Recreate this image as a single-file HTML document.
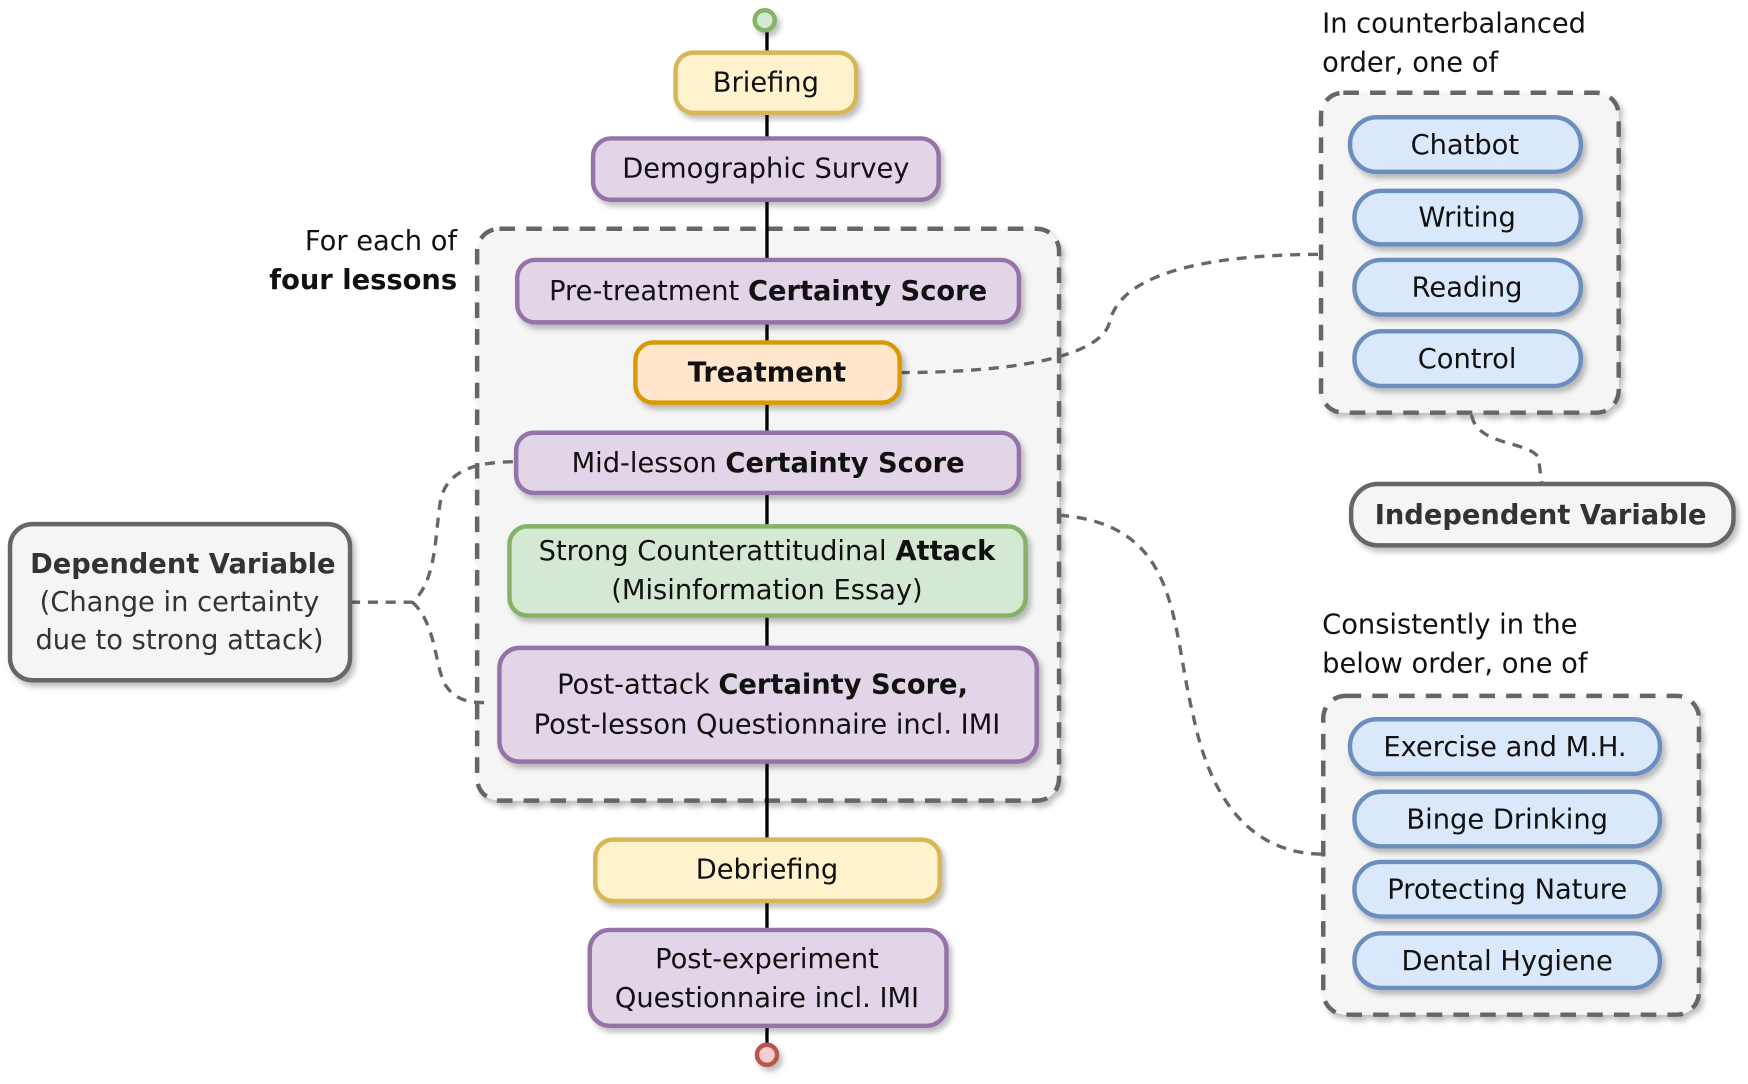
<!DOCTYPE html>
<html><head><meta charset="utf-8"><style>
html,body{margin:0;padding:0;background:#fff}
svg{display:block}
text{font-family:"DejaVu Sans","Liberation Sans",sans-serif;font-size:24.5px;fill:#111}
.b{font-weight:bold}
</style></head><body>
<svg width="1748" height="1084" viewBox="0 0 1568 972" xmlns="http://www.w3.org/2000/svg">
<defs><filter id="s" x="-10%" y="-10%" width="125%" height="135%"><feDropShadow dx="3" dy="4" stdDeviation="2.5" flood-color="#000" flood-opacity="0.25"/></filter></defs>
<g filter="url(#s)">
<rect x="428" y="205" width="522" height="513" rx="20" fill="#f5f5f5" stroke="#666" stroke-width="4" stroke-dasharray="14 10"/>
<rect x="1185" y="83" width="267" height="287" rx="20" fill="#f5f5f5" stroke="#666" stroke-width="4" stroke-dasharray="14 10"/>
<rect x="1187" y="624" width="337" height="286" rx="20" fill="#f5f5f5" stroke="#666" stroke-width="4" stroke-dasharray="14 10"/>
</g>
<line x1="688" y1="18" x2="688" y2="946" stroke="#000" stroke-width="3"/>
<g fill="none" stroke="#666" stroke-width="3" stroke-dasharray="9 7">
<path d="M807,334 C900,334 985,322 995,290 C1005,240 1100,228 1185,228"/>
<path d="M1320,372 C1325,400 1370,395 1380,410 L1383,434"/>
<path d="M950,462 C1060,470 1050,560 1070,640 C1090,740 1140,766 1187,766"/>
<path d="M314,540 L370,540 C392,520 390,480 395,450 C400,420 430,414 463,414"/>
<path d="M370,540 C392,560 390,600 400,615 C410,630 425,630 437,630"/>
</g>
<g filter="url(#s)" stroke-width="4">
<circle cx="686" cy="18" r="9" fill="#d5e8d4" stroke="#82b366"/>
<circle cx="688" cy="946" r="9" fill="#f8cecc" stroke="#b85450"/>
<rect x="606" y="47" width="162" height="54" rx="16" fill="#fff2cc" stroke="#d6b656"/>
<rect x="532" y="124" width="310" height="55" rx="16" fill="#e1d5e7" stroke="#9673a6"/>
<rect x="464" y="233" width="450" height="56" rx="16" fill="#e1d5e7" stroke="#9673a6"/>
<rect x="570" y="307" width="237" height="54" rx="16" fill="#ffe6cc" stroke="#d79b00"/>
<rect x="463" y="388" width="451" height="54" rx="16" fill="#e1d5e7" stroke="#9673a6"/>
<rect x="457" y="472" width="463" height="80" rx="16" fill="#d5e8d4" stroke="#82b366"/>
<rect x="448" y="581" width="482" height="102" rx="18" fill="#e1d5e7" stroke="#9673a6"/>
<rect x="534" y="753" width="309" height="55" rx="16" fill="#fff2cc" stroke="#d6b656"/>
<rect x="529" y="834" width="320" height="86" rx="18" fill="#e1d5e7" stroke="#9673a6"/>
<rect x="9" y="470" width="305" height="140" rx="20" fill="#f5f5f5" stroke="#666"/>
<rect x="1212" y="434" width="343" height="55" rx="24" fill="#f5f5f5" stroke="#666"/>
<g fill="#dae8fc" stroke="#6c8ebf">
<rect x="1211" y="105" width="207" height="49" rx="24"/>
<rect x="1215" y="171" width="203" height="48" rx="24"/>
<rect x="1215" y="233" width="203" height="49" rx="24"/>
<rect x="1215" y="297" width="203" height="49" rx="24"/>
<rect x="1211" y="645" width="278" height="49" rx="24"/>
<rect x="1215" y="710" width="274" height="49" rx="24"/>
<rect x="1215" y="773" width="274" height="49" rx="24"/>
<rect x="1215" y="837" width="274" height="49" rx="24"/>
</g>
</g>
<g text-anchor="middle">
<text x="687" y="82">Briefing</text>
<text x="687" y="159">Demographic Survey</text>
<text x="689" y="269">Pre-treatment <tspan class="b">Certainty Score</tspan></text>
<text x="688" y="342" class="b">Treatment</text>
<text x="689" y="423">Mid-lesson <tspan class="b">Certainty Score</tspan></text>
<text x="688" y="502">Strong Counterattitudinal <tspan class="b">Attack</tspan></text>
<text x="688" y="537">(Misinformation Essay)</text>
<text x="684" y="622">Post-attack <tspan class="b">Certainty Score,</tspan></text>
<text x="688" y="658">Post-lesson Questionnaire incl. IMI</text>
<text x="688" y="788">Debriefing</text>
<text x="688" y="868">Post-experiment</text>
<text x="688" y="903">Questionnaire incl. IMI</text>
<text x="164" y="514" class="b" style="fill:#333">Dependent Variable</text>
<text x="161" y="548" style="fill:#333">(Change in certainty</text>
<text x="161" y="582" style="fill:#333">due to strong attack)</text>
<text x="1382" y="470" class="b" style="fill:#333">Independent Variable</text>
<text x="1314" y="138">Chatbot</text>
<text x="1316" y="203">Writing</text>
<text x="1316" y="266">Reading</text>
<text x="1316" y="330">Control</text>
<text x="1350" y="678">Exercise and M.H.</text>
<text x="1352" y="743">Binge Drinking</text>
<text x="1352" y="806">Protecting Nature</text>
<text x="1352" y="870">Dental Hygiene</text>
</g>
<g text-anchor="end">
<text x="410" y="224">For each of</text>
<text x="410" y="259" class="b">four lessons</text>
</g>
<text x="1186" y="29">In counterbalanced</text>
<text x="1186" y="64">order, one of</text>
<text x="1186" y="568">Consistently in the</text>
<text x="1186" y="603">below order, one of</text>
</svg>
</body></html>
